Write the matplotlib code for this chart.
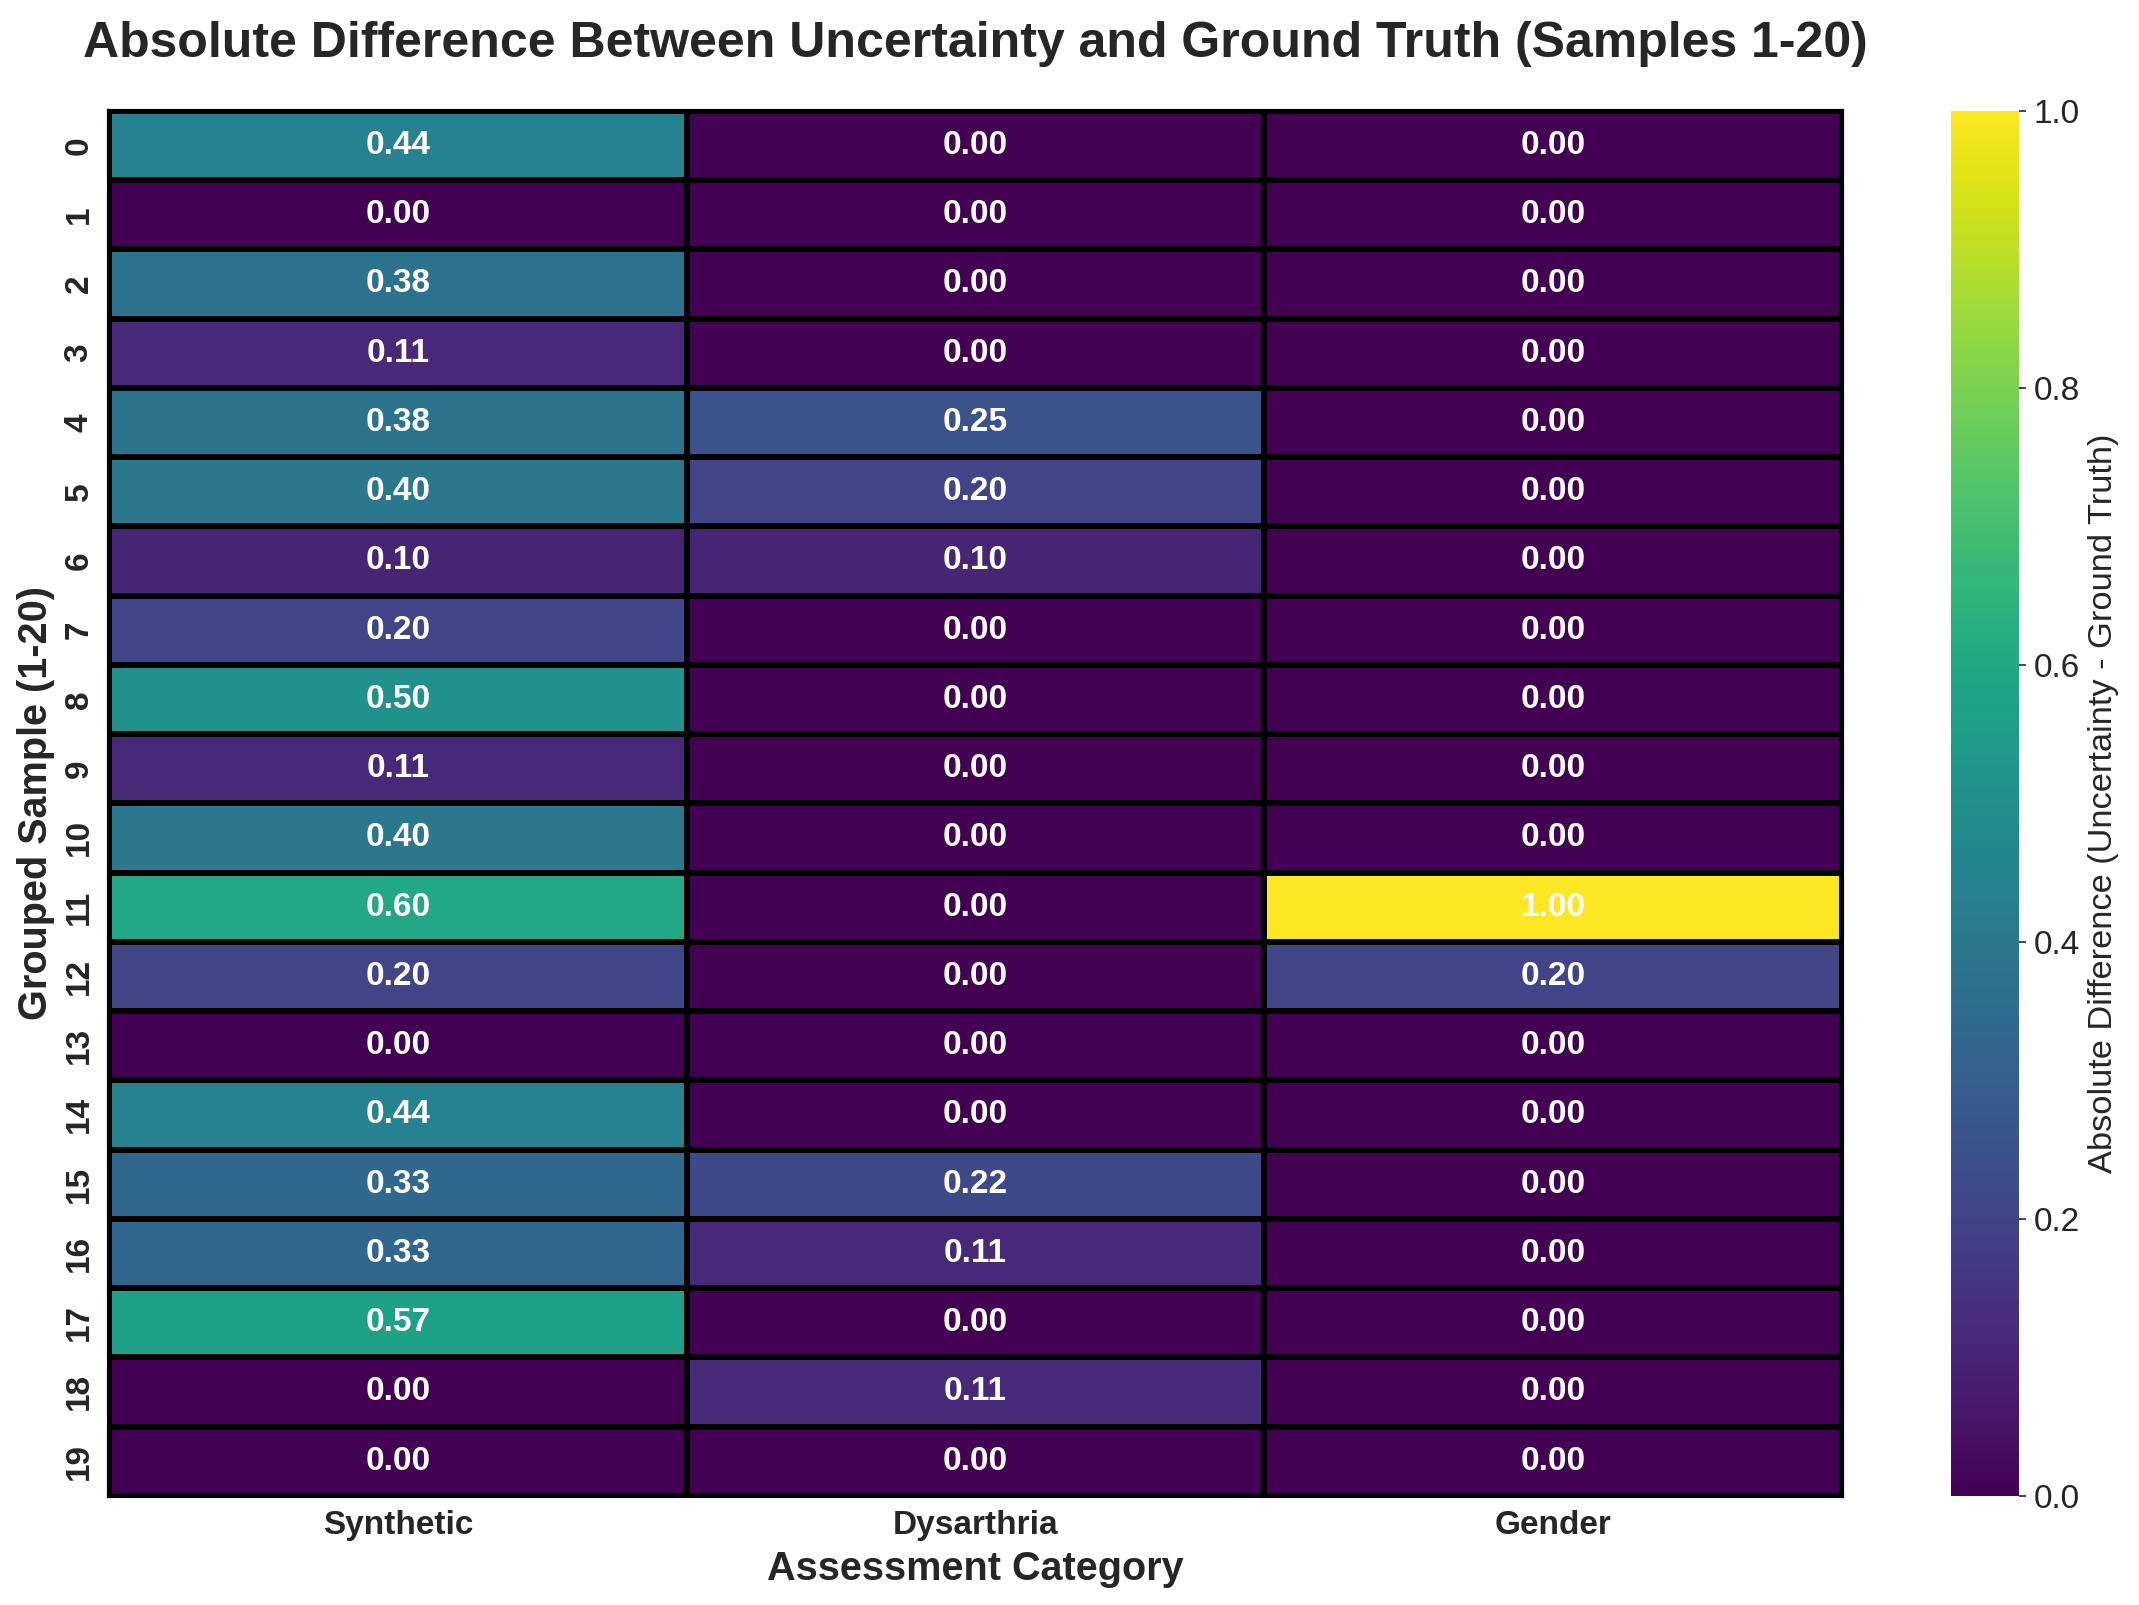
import numpy as np
import pandas as pd
import seaborn as sns
from matplotlib import pyplot as plt

categories = ['Synthetic', 'Dysarthria', 'Gender']
samples = list(range(20))

synthetic = [0.44, 0.00, 0.375, 0.11, 0.38, 0.40, 0.10, 0.20, 0.50, 0.11,
             0.40, 0.60, 0.20, 0.00, 0.44, 0.333, 0.33, 0.57, 0.00, 0.00]
dysarthria = [0.00, 0.00, 0.00, 0.00, 0.25, 0.20, 0.10, 0.00, 0.00, 0.00,
              0.00, 0.00, 0.00, 0.00, 0.00, 0.22, 0.11, 0.00, 0.11, 0.00]
gender = [0.00, 0.00, 0.00, 0.00, 0.00, 0.00, 0.00, 0.00, 0.00, 0.00,
          0.00, 1.00, 0.20, 0.00, 0.00, 0.00, 0.00, 0.00, 0.00, 0.00]

df = pd.DataFrame({'Synthetic': synthetic, 'Dysarthria': dysarthria, 'Gender': gender},
                  index=samples)[categories]

sns.set_style('white')
plt.rcParams['font.family'] = ['Liberation Sans', 'DejaVu Sans']

fig = plt.figure(figsize=(14.26, 10.7), dpi=150)
ax = fig.add_axes([0.051, 0.068, 0.810, 0.863])
cax = fig.add_axes([0.912, 0.068, 0.032, 0.863])

sns.heatmap(df, ax=ax, cbar_ax=cax, cmap='viridis', vmin=0, vmax=1,
            annot=True, fmt='.2f', linewidths=2, linecolor='black',
            annot_kws={'size': 16, 'weight': 'bold', 'color': 'white'},
            cbar_kws={'label': 'Absolute Difference (Uncertainty - Ground Truth)'})

# 外框
for sp in ax.spines.values():
    sp.set_visible(True)
    sp.set_color('black')
    sp.set_linewidth(2)

ax.set_title('Absolute Difference Between Uncertainty and Ground Truth (Samples 1-20)',
             fontsize=24, fontweight='bold', pad=26)
ax.set_xlabel('Assessment Category', fontsize=19, fontweight='bold')
ax.set_ylabel('Grouped Sample (1-20)', fontsize=19, fontweight='bold')
ax.tick_params(axis='x', labelsize=16)
ax.tick_params(axis='y', labelsize=16, rotation=90)
for lab in ax.get_xticklabels() + ax.get_yticklabels():
    lab.set_fontweight('bold')
for lab in ax.get_yticklabels():
    lab.set_va('center')

cax.tick_params(labelsize=16)
cax.yaxis.label.set_size(16.5)

fig.savefig('out.png', dpi=150)
